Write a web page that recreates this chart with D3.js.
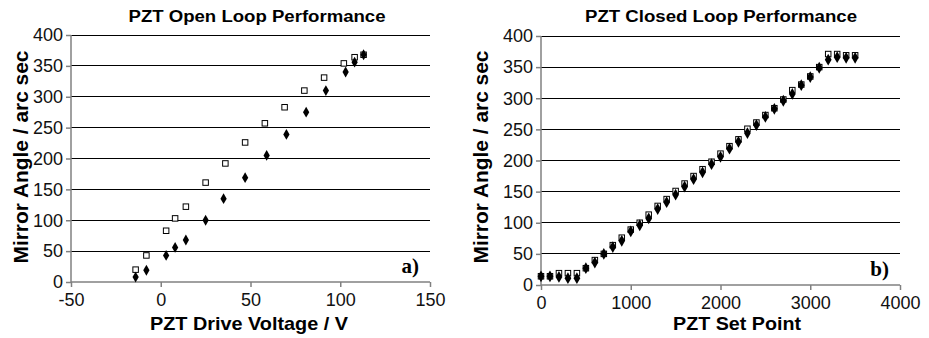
<!DOCTYPE html>
<html>
<head>
<meta charset="utf-8">
<script src="https://cdn.jsdelivr.net/npm/d3@7"></script>
<style>
  body { margin: 0; background: #fff; }
</style>
</head>
<body>
<svg id="chart" width="929" height="338"></svg>
<script>
// open loop: drive voltage (V) vs mirror angle (arc sec)
var openSquareX = [-14, -8, 3, 8, 14, 25, 36, 47, 58, 69, 80, 91, 102, 108, 113];
var openSquareY = [20, 43, 83, 103, 122, 161, 192, 226, 257, 283, 310, 331, 354, 364, 368];
var openDiamondX = [-14, -8, 3, 8, 14, 25, 35, 47, 59, 70, 81, 92, 103, 108, 113];
var openDiamondY = [8, 19, 43, 56, 68, 100, 135, 169, 205, 239, 275, 310, 340, 356, 368];

// closed loop: set point vs mirror angle (arc sec)
var setPoints = d3.range(0, 3600, 100);
var closedSquareY = [14, 14, 19, 19, 19, 27, 40, 50, 64, 76, 89, 100, 113, 127, 138, 151,
  163, 175, 186, 198, 211, 223, 234, 251, 261, 273, 284, 298, 313, 322, 335, 350,
  371, 371, 369, 369];
var closedDiamondY = [14, 14, 13, 11, 11, 27, 36, 50, 61, 71, 86, 96, 107, 122, 133, 145,
  158, 170, 181, 194, 206, 219, 230, 244, 257, 270, 283, 296, 307, 321, 334, 349,
  362, 366, 365, 365];

var yTicks = [0, 50, 100, 150, 200, 250, 300, 350, 400];
var openXTicks = [-50, 0, 50, 100, 150];
var closedXTicks = [0, 1000, 2000, 3000, 4000];

var sans = "'Liberation Sans', Arial, sans-serif";
var serif = "'Liberation Serif', 'Times New Roman', serif";

var svg = d3.select("#chart");

function drawPanel(opt) {
    var g = svg.append("g");
    var x = d3.scaleLinear().domain(opt.xDomain).range([opt.left, opt.right]);
    var y = d3.scaleLinear().domain([0, 400]).range([opt.bottom, opt.top]);

    // horizontal gridlines
    g.selectAll("line.grid")
        .data(yTicks.filter(function(d) { return d > 0; }))
        .enter().append("line")
        .attr("x1", opt.left).attr("x2", opt.right)
        .attr("y1", function(d) { return y(d); })
        .attr("y2", function(d) { return y(d); })
        .attr("stroke", "#000")
        .attr("stroke-width", 1)
        .attr("shape-rendering", "crispEdges");

    var yAxis = g.append("g")
        .attr("transform", "translate(" + opt.left + ",0)")
        .call(d3.axisLeft(y).tickValues(yTicks).tickSize(5).tickPadding(3)
            .tickFormat(function(d) { return String(d); }));
    var xAxis = g.append("g")
        .attr("transform", "translate(0," + opt.bottom + ")")
        .call(d3.axisBottom(x).tickValues(opt.xTicks).tickSize(5).tickPadding(6)
            .tickFormat(function(d) { return String(d); }));

    [yAxis, xAxis].forEach(function(a) {
        a.selectAll("path.domain").attr("stroke", "#808080").attr("stroke-width", 1.5);
        a.selectAll(".tick line").attr("stroke", "#808080").attr("stroke-width", 1.5);
        a.selectAll(".tick text")
            .style("font-family", sans)
            .style("font-size", "18px")
            .attr("fill", "#111");
    });
    xAxis.selectAll("path.domain").attr("d",
        "M" + opt.left + ",0H" + opt.right);
    yAxis.selectAll("path.domain").attr("d",
        "M0," + opt.bottom + "V" + opt.top);

    var cx = (opt.left + opt.right) / 2;

    g.append("text")
        .attr("x", opt.titleX).attr("y", 22)
        .attr("text-anchor", "middle")
        .style("font-family", sans)
        .style("font-weight", "bold").style("font-size", "16px")
        .attr("textLength", opt.titleLen).attr("lengthAdjust", "spacingAndGlyphs")
        .text(opt.title);

    g.append("text")
        .attr("x", opt.xLabelX).attr("y", 330)
        .attr("text-anchor", "middle")
        .style("font-family", sans)
        .style("font-weight", "bold").style("font-size", "19px")
        .attr("textLength", opt.xLabelLen).attr("lengthAdjust", "spacingAndGlyphs")
        .text(opt.xLabel);

    g.append("text")
        .attr("transform", "translate(" + opt.yLabelX + ",157) rotate(-90)")
        .attr("text-anchor", "middle")
        .style("font-family", sans)
        .style("font-weight", "bold").style("font-size", "21px")
        .attr("textLength", 213).attr("lengthAdjust", "spacingAndGlyphs")
        .text("Mirror Angle / arc sec");

    g.append("text")
        .attr("x", opt.right - 11).attr("y", opt.bottom - 9)
        .attr("text-anchor", "end")
        .style("font-family", serif)
        .style("font-weight", "bold").style("font-size", "21px")
        .text(opt.tag);

    // hollow squares
    var s = 5.5;
    g.selectAll("rect.sq")
        .data(d3.zip(opt.sqX, opt.sqY))
        .enter().append("rect")
        .attr("x", function(d) { return x(d[0]) - s / 2; })
        .attr("y", function(d) { return y(d[1]) - s / 2; })
        .attr("width", s).attr("height", s)
        .attr("fill", "#fff")
        .attr("stroke", "#000")
        .attr("stroke-width", 1);

    // filled diamonds
    var diamond = d3.symbol().type(d3.symbolDiamond).size(opt.dSize);
    g.selectAll("path.dm")
        .data(d3.zip(opt.dmX, opt.dmY))
        .enter().append("path")
        .attr("d", diamond)
        .attr("transform", function(d) {
            return "translate(" + x(d[0]) + "," + y(d[1]) + ")";
        })
        .attr("fill", "#000");
}

drawPanel({
    left: 71, right: 430, top: 35, bottom: 282,
    xDomain: [-50, 150], xTicks: openXTicks,
    title: "PZT Open Loop Performance", titleX: 257, titleLen: 257,
    xLabel: "PZT Drive Voltage / V", xLabelX: 249, xLabelLen: 198,
    yLabelX: 28, tag: "a)",
    sqX: openSquareX, sqY: openSquareY,
    dmX: openDiamondX, dmY: openDiamondY,
    dSize: 34
});

drawPanel({
    left: 541, right: 900, top: 36, bottom: 285,
    xDomain: [0, 4000], xTicks: closedXTicks,
    title: "PZT Closed Loop Performance", titleX: 721, titleLen: 272,
    xLabel: "PZT Set Point", xLabelX: 737, xLabelLen: 128,
    yLabelX: 488, tag: "b)",
    sqX: setPoints, sqY: closedSquareY,
    dmX: setPoints, dmY: closedDiamondY,
    dSize: 40
});
</script>
</body>
</html>
